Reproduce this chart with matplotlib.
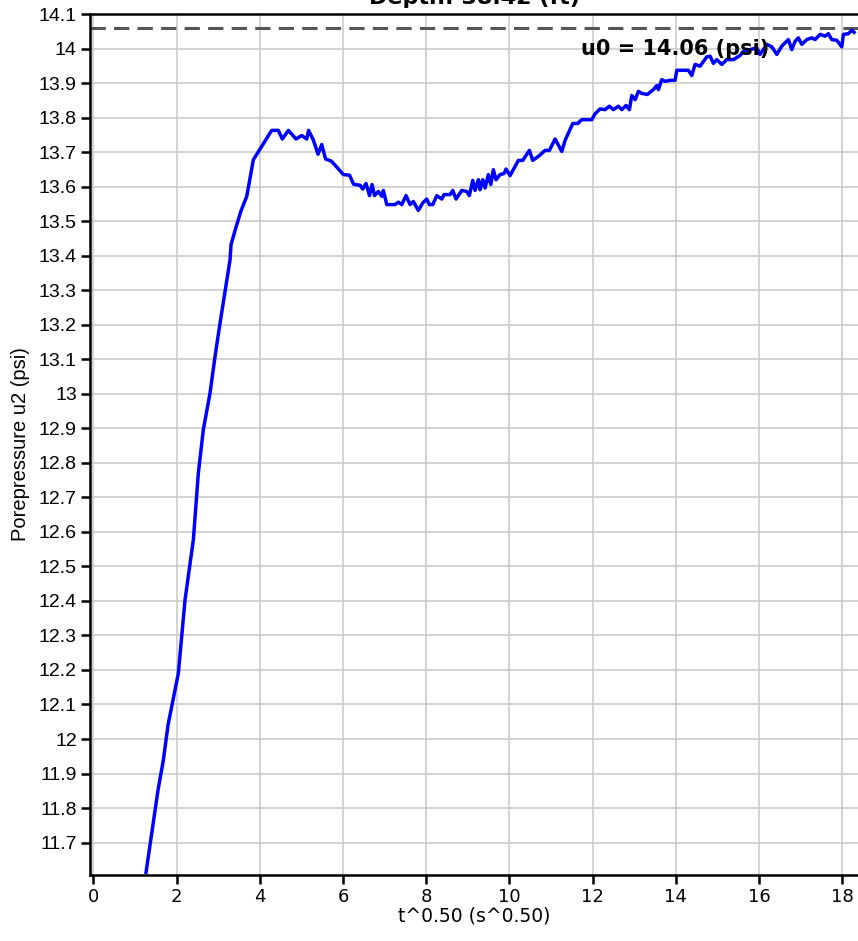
#!/usr/bin/env python3
# -*- coding: utf-8 -*-
"""
Pore pressure dissipation plot, u2 against root time.
"""
import matplotlib
matplotlib.use("Agg")
import matplotlib.pyplot as plt
import numpy as np
from matplotlib.ticker import MultipleLocator, FuncFormatter

# dissipation record: sqrt(t) in s^0.5 and u2 in psi
sqrt_t = [1.267, 1.555, 1.683, 1.796, 2.043, 2.204, 2.404, 2.524, 2.644, 2.805,
          2.925, 3.046, 3.286, 3.310, 3.423, 3.550, 3.688, 3.846, 4.048, 4.288,
          4.447, 4.543, 4.688, 4.873, 5.010, 5.130, 5.173, 5.288, 5.401, 5.490,
          5.582, 5.721, 5.834, 6.010, 6.159, 6.255, 6.411, 6.476, 6.555, 6.639,
          6.700, 6.760, 6.851, 6.933, 6.971, 7.053, 7.252, 7.332, 7.413, 7.517,
          7.613, 7.692, 7.812, 7.918, 8.014, 8.077, 8.159, 8.255, 8.375, 8.430,
          8.575, 8.639, 8.719, 8.856, 8.976, 9.038, 9.120, 9.175, 9.255, 9.296,
          9.361, 9.416, 9.495, 9.553, 9.615, 9.680, 9.776, 9.873, 9.921, 10.017,
          10.216, 10.322, 10.481, 10.562, 10.721, 10.858, 10.962, 11.099, 11.260, 11.339,
          11.524, 11.644, 11.740, 11.981, 12.060, 12.180, 12.300, 12.404, 12.500, 12.620,
          12.702, 12.805, 12.885, 12.942, 13.022, 13.101, 13.183, 13.317, 13.462, 13.543,
          13.582, 13.663, 13.743, 13.863, 13.983, 14.024, 14.144, 14.303, 14.385, 14.464,
          14.584, 14.745, 14.825, 14.904, 14.986, 15.106, 15.226, 15.385, 15.546, 15.625,
          15.786, 15.947, 16.026, 16.106, 16.188, 16.308, 16.428, 16.548, 16.707, 16.788,
          16.868, 16.947, 17.029, 17.149, 17.269, 17.349, 17.469, 17.589, 17.668, 17.750,
          17.870, 17.990, 18.029, 18.149, 18.231, 18.286]
u2 = [11.614, 11.852, 11.939, 12.041, 12.190, 12.403, 12.577, 12.770, 12.896, 13.002,
      13.108, 13.205, 13.388, 13.432, 13.480, 13.530, 13.572, 13.678, 13.717, 13.763,
      13.763, 13.738, 13.763, 13.738, 13.748, 13.738, 13.763, 13.735, 13.694, 13.722,
      13.680, 13.674, 13.659, 13.635, 13.633, 13.607, 13.604, 13.593, 13.609, 13.574,
      13.606, 13.574, 13.586, 13.572, 13.589, 13.548, 13.548, 13.555, 13.548, 13.574,
      13.548, 13.557, 13.531, 13.553, 13.564, 13.548, 13.548, 13.574, 13.564, 13.577,
      13.577, 13.589, 13.564, 13.589, 13.586, 13.574, 13.618, 13.589, 13.620, 13.591,
      13.620, 13.596, 13.635, 13.606, 13.649, 13.620, 13.635, 13.638, 13.651, 13.632,
      13.676, 13.676, 13.705, 13.676, 13.690, 13.705, 13.705, 13.738, 13.702, 13.734,
      13.783, 13.783, 13.794, 13.794, 13.811, 13.825, 13.823, 13.833, 13.823, 13.833,
      13.823, 13.835, 13.823, 13.864, 13.852, 13.876, 13.870, 13.867, 13.881, 13.893,
      13.881, 13.910, 13.905, 13.908, 13.908, 13.937, 13.937, 13.937, 13.922, 13.954,
      13.949, 13.976, 13.978, 13.957, 13.968, 13.954, 13.968, 13.968, 13.980, 13.992,
      13.997, 14.002, 13.983, 13.997, 14.012, 14.005, 13.983, 14.007, 14.026, 13.997,
      14.021, 14.031, 14.012, 14.026, 14.031, 14.026, 14.041, 14.036, 14.043, 14.026,
      14.024, 14.005, 14.041, 14.043, 14.053, 14.047]

u0 = 14.06
depth_ft = 38.42

plt.rcParams['font.family'] = ['Liberation Sans', 'DejaVu Sans']

fig = plt.figure(figsize=(8.58, 9.41), dpi=100)
ax = fig.add_axes([0.1049, 0.0701, 0.8951, 0.9150])

ax.grid(True, color='#c8c8c8', linewidth=1.1)
ax.set_axisbelow(True)

ax.axhline(u0, color='#555555', linewidth=2.2, linestyle=(0, (5, 2.7)))
ax.plot(sqrt_t, u2, color='#0000ff', linewidth=2.5)

ax.text(16.25, 14.0, 'u0 = {:.2f} (psi)'.format(u0), ha='right', va='center',
        fontsize=15, fontweight='bold', family='DejaVu Sans')

ax.set_xlim(-0.08, 18.38)
ax.set_ylim(11.606, 14.1)
ax.xaxis.set_major_locator(MultipleLocator(2))
ax.yaxis.set_major_locator(MultipleLocator(0.1))
ax.yaxis.set_major_formatter(FuncFormatter(lambda v, p: '{:g}'.format(round(v, 2))))

for side in ['left', 'bottom', 'top']:
    ax.spines[side].set_linewidth(1.8)
ax.spines['right'].set_visible(False)
ax.tick_params(direction='out', length=6.5, width=1.8, pad=3)
ax.tick_params(axis='y', labelsize=14)
ax.tick_params(axis='x', labelsize=13)
for lbl in ax.get_xticklabels():
    lbl.set_family('DejaVu Sans')

ax.set_xlabel('t^0.50 (s^0.50)', fontsize=13.5, family='DejaVu Sans', labelpad=0)
ax.set_ylabel('Porepressure u2 (psi)', fontsize=14.5, labelpad=6)
ax.set_title('Depth: {:.2f} (ft)'.format(depth_ft), fontsize=16,
             fontweight='bold', family='DejaVu Sans', pad=7)

plt.savefig('out.png')
